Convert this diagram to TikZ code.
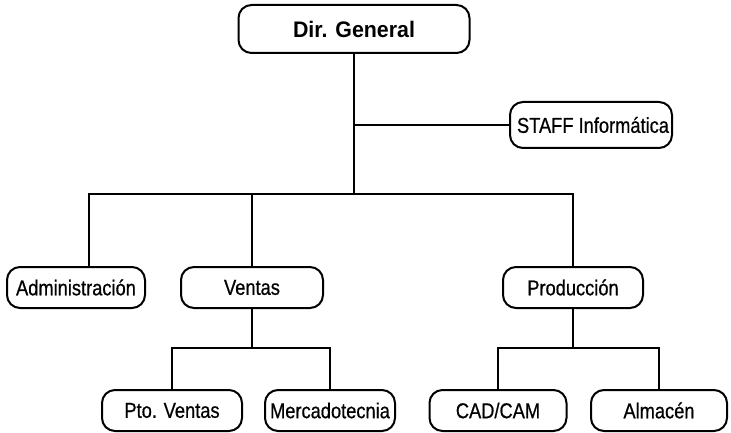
\documentclass[tikz,border=0pt]{standalone}
\usepackage{fontspec}
\setmainfont{Liberation Sans}[FakeStretch=0.85,FakeBold=0.6]
\newfontfamily\headfont{Liberation Sans Bold}[FakeStretch=0.95]
\begin{document}
\begin{tikzpicture}[x=1pt,y=-1pt,
  box/.style={draw, line width=2pt, rounded corners=13pt, inner sep=0pt,
    minimum height=41pt, font=\fontsize{21.5}{25}\selectfont},
  conn/.style={line width=2.2pt}]
\useasboundingbox (0,0) rectangle (731,433);
\fill[white] (0,0) rectangle (731,433);
% nodes
\node[box, minimum width=231pt, minimum height=48pt, font=\fontsize{22.5}{26}\headfont] (dir) at (354,29) {Dir. General};
\node[box, minimum width=162pt, minimum height=46pt] (staff) at (591,125) {\hspace*{4pt}STAFF Informática};
\node[box, minimum width=138pt] (admin) at (76,287.5) {Administración};
\node[box, minimum width=142pt] (ventas) at (252,287.5) {Ventas};
\node[box, minimum width=140pt] (prod) at (573,287.5) {Producción};
\node[box, minimum width=140pt] (pto) at (172,410.5) {Pto. Ventas};
\node[box, minimum width=130pt] (merc) at (330,410.5) {Mercadotecnia};
\node[box, minimum width=137pt] (cad) at (498,410.5) {CAD/CAM};
\node[box, minimum width=136pt] (alm) at (659,410.5) {Almacén};
% junctions
\coordinate (jstaff) at (354,125);
\coordinate (jtop) at (354,194);
\coordinate (busL) at (89,194);
\coordinate (vbus) at (252,348);
\coordinate (pbus) at (573,348);
% connectors
\draw[conn] (dir.south) -- (jtop);
\draw[conn] (jstaff) -- (staff.west);
\draw[conn] (busL |- admin.north) -- (busL) -| (prod.north);
\draw[conn] (jtop -| ventas.north) -- (ventas.north);
\draw[conn] (ventas.south) -- (vbus);
\draw[conn] (pto.north) |- (vbus) -| (merc.north);
\draw[conn] (prod.south) -- (pbus);
\draw[conn] (cad.north) |- (pbus) -| (alm.north);
\end{tikzpicture}
\end{document}
